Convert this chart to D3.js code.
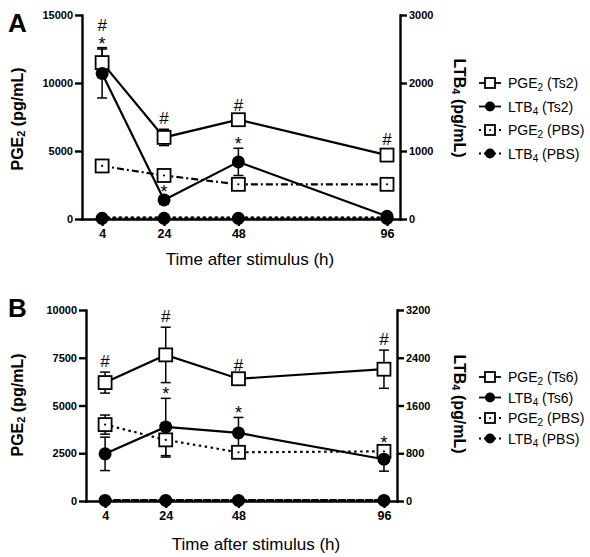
<!DOCTYPE html>
<html>
<head>
<meta charset="utf-8">
<script src="https://cdn.jsdelivr.net/npm/d3@7"></script>
<style>
  body { margin: 0; background: #fff; }
  svg { font-family: "Liberation Sans", Arial, sans-serif; }
  .tick text { font-size: 11px; font-weight: bold; fill: #000; }
  .xaxis .tick text { font-size: 12.5px; }
  .axis path, .axis line { stroke: #000; stroke-width: 2.4px; }
</style>
</head>
<body>
<script>
// sampling times (h)
const hours = [4, 24, 48, 96];

// panel A
const pgeTs2 = [11500, 6000, 7300, 4700];
const pgeTs2Err = [1100, 600, 250, 350];
const ltbTs2 = [2140, 280, 840, 40];
const ltbTs2Err = [360, 60, 200, 20];
const pgePbsA = [3900, 3200, 2550, 2550];
const pgePbsAErr = [100, 150, 100, 100];
const ltbPbsA = [10, 10, 10, 10];
const hashA = ["#", "#", "#", "#"];
const starA = ["*", "*", "*", ""];
const leftTicksA = [0, 5000, 10000, 15000];
const rightTicksA = [0, 1000, 2000, 3000];
const legendA = ["(Ts2)", "(Ts2)", "(PBS)", "(PBS)"];

// panel B
const pgeTs6 = [6200, 7650, 6400, 6900];
const pgeTs6Err = [550, 1450, 150, 1000];
const ltbTs6 = [790, 1240, 1140, 700];
const ltbTs6Err = [280, 480, 260, 200];
const pgePbsB = [4000, 3200, 2550, 2600];
const pgePbsBErr = [500, 900, 150, 200];
const ltbPbsB = [10, 10, 10, 10];
const hashB = ["#", "#", "#", "#"];
const starB = ["*", "*", "*", "*"];
const leftTicksB = [0, 2500, 5000, 7500, 10000];
const rightTicksB = [0, 800, 1600, 2400, 3200];
const legendB = ["(Ts6)", "(Ts6)", "(PBS)", "(PBS)"];

const svg = d3.select("body").append("svg").attr("width", 590).attr("height", 557);

const drawPanel = (p) => {
  const g = svg.append("g");
  const x = d3.scaleLinear().domain(p.xDomain).range([p.left, p.right]);
  const yL = d3.scaleLinear().domain([0, p.leftMax]).range([p.bottom, p.top]);
  const yR = d3.scaleLinear().domain([0, p.rightMax]).range([p.bottom, p.top]);

  // axes
  g.append("g").attr("class", "axis")
    .attr("transform", `translate(${p.left},0)`)
    .call(d3.axisLeft(yL).tickValues(p.leftTicks).tickFormat(d3.format("d")).tickSize(7).tickSizeOuter(0).tickPadding(2));
  g.append("g").attr("class", "axis")
    .attr("transform", `translate(${p.right},0)`)
    .call(d3.axisRight(yR).tickValues(p.rightTicks).tickFormat(d3.format("d")).tickSize(7).tickSizeOuter(0).tickPadding(2));
  g.append("g").attr("class", "axis xaxis")
    .attr("transform", `translate(0,${p.bottom})`)
    .call(d3.axisBottom(x).tickValues(hours).tickSize(7).tickSizeOuter(0).tickPadding(3));
  g.selectAll(".axis .domain").attr("stroke-linecap", "square");

  const series = [
    { vals: p.pgeTs, err: p.pgeTsErr, y: yL, shape: "square", dash: null, w: 2.2 },
    { vals: p.ltbTs, err: p.ltbTsErr, y: yR, shape: "circle", dash: null, w: 2.2 },
    { vals: p.pgePbs, err: p.pgePbsErr, y: yL, shape: "squareDot", dash: p.pbsDash, w: 2.2 },
    { vals: p.ltbPbs, err: null, y: yR, shape: "circle", dash: p.ltbPbsDash, w: p.ltbPbsWidth },
  ];

  // lines
  series.forEach((s) => {
    g.append("path")
      .datum(s.vals)
      .attr("fill", "none")
      .attr("stroke", "#000")
      .attr("stroke-width", s.w)
      .attr("stroke-dasharray", s.dash)
      .attr("stroke-linecap", s.w > 2.5 ? "round" : "butt")
      .attr("d", d3.line().x((d, i) => x(hours[i])).y((d) => s.y(d)));
  });

  // annotations
  hours.forEach((h, i) => {
    const pTop = yL(p.pgeTs[i] + p.pgeTsErr[i]);
    const lTop = yR(p.ltbTs[i] + p.ltbTsErr[i]);
    let hashY = pTop - 11;
    let starY = lTop - 9;
    if (p.star[i] && Math.abs(starY - hashY) < 14) {
      starY = Math.min(starY, pTop - 9);
      hashY = starY - 14;
    }
    if (p.hash[i]) {
      g.append("text").attr("x", x(h)).attr("y", hashY + 6)
        .attr("text-anchor", "middle").style("font-size", "17px").text(p.hash[i]);
    }
    if (p.star[i]) {
      g.append("text").attr("x", x(h)).attr("y", starY + 11)
        .attr("text-anchor", "middle").style("font-size", "18px").text(p.star[i]);
    }
  });

  // error bars
  series.filter((s) => s.err).forEach((s) => {
    s.vals.forEach((v, i) => {
      const cx = x(hours[i]);
      const y1 = s.y(v + s.err[i]);
      const y2 = s.y(Math.max(0, v - s.err[i]));
      g.append("line").attr("x1", cx).attr("x2", cx).attr("y1", y1).attr("y2", y2)
        .attr("stroke", "#000").attr("stroke-width", 1.5);
      [y1, y2].forEach((yy) => {
        g.append("line").attr("x1", cx - 5).attr("x2", cx + 5).attr("y1", yy).attr("y2", yy)
          .attr("stroke", "#000").attr("stroke-width", 1.5);
      });
    });
  });

  const marker = (sel, shape, cx, cy, size) => {
    if (shape === "circle") {
      sel.append("circle").attr("cx", cx).attr("cy", cy).attr("r", size / 2).attr("fill", "#000");
    } else {
      sel.append("rect").attr("x", cx - size / 2).attr("y", cy - size / 2)
        .attr("width", size).attr("height", size)
        .attr("fill", "#fff").attr("stroke", "#000").attr("stroke-width", 1.8);
      if (shape === "squareDot") {
        sel.append("circle").attr("cx", cx).attr("cy", cy).attr("r", 1.1).attr("fill", "#000");
      }
    }
  };

  // markers (PBS first so Ts symbols sit on top)
  [series[3], series[2], series[0], series[1]].forEach((s) => {
    s.vals.forEach((v, i) => marker(g, s.shape, x(hours[i]), s.y(v), 13));
  });

  // titles
  g.append("text").attr("x", 8).attr("y", p.labelY)
    .style("font-size", "26px").style("font-weight", "bold").text(p.label);
  const yt = g.append("text")
    .attr("transform", `translate(17,${p.leftTitleY}) rotate(-90)`)
    .attr("text-anchor", "middle").attr("dominant-baseline", "central")
    .style("font-size", "16px").style("font-weight", "bold");
  yt.append("tspan").text("PGE");
  yt.append("tspan").text("2").style("font-size", "11px").attr("dy", 4);
  yt.append("tspan").text(" (pg/mL)").attr("dy", -4);
  const rt = g.append("text")
    .attr("transform", `translate(460,${p.rightTitleY}) rotate(90)`)
    .attr("text-anchor", "middle").attr("dominant-baseline", "central")
    .style("font-size", "16px").style("font-weight", "bold");
  rt.append("tspan").text("LTB");
  rt.append("tspan").text("4").style("font-size", "11px").attr("dy", 4);
  rt.append("tspan").text(" (pg/mL)").attr("dy", -4);
  g.append("text").attr("x", p.xTitleX).attr("y", p.xTitleY)
    .attr("text-anchor", "middle").style("font-size", "17px").text("Time after stimulus (h)");

  // legend
  const names = [["PGE", "2"], ["LTB", "4"], ["PGE", "2"], ["LTB", "4"]];
  series.forEach((s, i) => {
    const ly = p.legendY + i * p.legendGap;
    g.append("line").attr("x1", 479).attr("x2", 501).attr("y1", ly).attr("y2", ly)
      .attr("stroke", "#000").attr("stroke-width", 1.8)
      .attr("stroke-dasharray", s.dash ? "2,3" : null);
    marker(g, s.shape, 490, ly, 10);
    const t = g.append("text").attr("x", 508).attr("y", ly + 5).style("font-size", "14px");
    t.append("tspan").text(names[i][0]);
    t.append("tspan").text(names[i][1]).style("font-size", "10px").attr("dy", 3);
    t.append("tspan").text(" " + p.legend[i]).attr("dy", -3);
  });
};

drawPanel({
  label: "A", labelY: 32,
  left: 82, right: 400, top: 15, bottom: 219, xDomain: [-2.5, 100.2],
  leftMax: 15000, rightMax: 3000, leftTicks: leftTicksA, rightTicks: rightTicksA,
  pgeTs: pgeTs2, pgeTsErr: pgeTs2Err, ltbTs: ltbTs2, ltbTsErr: ltbTs2Err,
  pgePbs: pgePbsA, pgePbsErr: pgePbsAErr, ltbPbs: ltbPbsA,
  pbsDash: "7,3,2,3", ltbPbsDash: "0.5,5.5", ltbPbsWidth: 4,
  hash: hashA, star: starA, legend: legendA,
  leftTitleY: 119, rightTitleY: 108, xTitleX: 250, xTitleY: 265,
  legendY: 83, legendGap: 23.5,
});

drawPanel({
  label: "B", labelY: 317,
  left: 86, right: 397, top: 310, bottom: 501, xDomain: [-2.3, 100.3],
  leftMax: 10000, rightMax: 3200, leftTicks: leftTicksB, rightTicks: rightTicksB,
  pgeTs: pgeTs6, pgeTsErr: pgeTs6Err, ltbTs: ltbTs6, ltbTsErr: ltbTs6Err,
  pgePbs: pgePbsB, pgePbsErr: pgePbsBErr, ltbPbs: ltbPbsB,
  pbsDash: "2.5,3.5", ltbPbsDash: "6,3", ltbPbsWidth: 2.6,
  hash: hashB, star: starB, legend: legendB,
  leftTitleY: 405, rightTitleY: 404, xTitleX: 256, xTitleY: 550,
  legendY: 377, legendGap: 20.5,
});
</script>
</body>
</html>
